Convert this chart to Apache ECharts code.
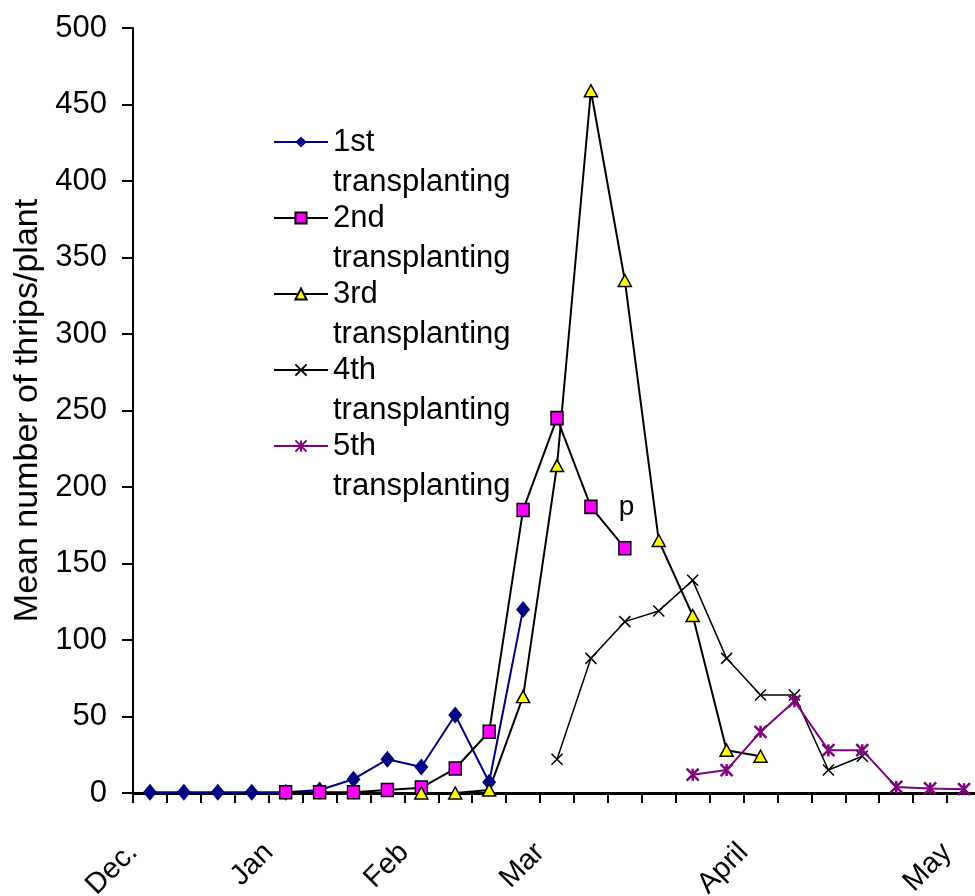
<!DOCTYPE html>
<html><head><meta charset="utf-8">
<script src="https://cdn.jsdelivr.net/npm/echarts@6/dist/echarts.min.js"></script>
<style>html,body{margin:0;padding:0;background:#fff}#c{width:975px;height:896px}</style>
</head><body><div id="c"></div>
<script>
// Sampling occasions (25, evenly spaced along the x axis)
const categories = ['1','2','3','4','5','6','7','8','9','10','11','12','13','14','15','16','17','18','19','20','21','22','23','24','25'];
// Month labels placed on the 26 tick boundaries
const monthLabels = ['Dec.','','','','Jan','','','','Feb','','','','Mar','','','','','','April','','','','','','May',''];
const seriesNames = ['1st\ntransplanting','2nd\ntransplanting','3rd\ntransplanting','4th\ntransplanting','5th\ntransplanting'];
const first  = [0.5,0.5,0.5,0.5,0.5,2,9,22,17,51,7,120,null,null,null,null,null,null,null,null,null,null,null,null,null];
const second = [null,null,null,null,0.5,0.5,0.5,2,3.5,16,40,185,245,187,160,null,null,null,null,null,null,null,null,null,null];
const third  = [null,null,null,null,null,null,null,null,0,0,2,63,214,459,335,165,116,28,24,null,null,null,null,null,null];
const fourth = [null,null,null,null,null,null,null,null,null,null,null,null,22,88,112,119,139,88,64,64,15,24,null,null,null];
const fifth  = [null,null,null,null,null,null,null,null,null,null,null,null,null,null,null,null,12,15,40,60,28,28,4,3,2.5];
const yMin = 0, yMax = 500, yInterval = 50;
const yAxisTitle = 'Mean number of thrips/plant';
const annotationIndex = 13, annotationText = 'p';

const FONT = "'Liberation Sans',Arial,sans-serif";
const chart = echarts.init(document.getElementById('c'), null, {renderer:'canvas'});

function lineSeries(name, data, color, width, symbol, size, fill, stroke, bw) {
  return {
    name: name, type: 'line', data: data, xAxisIndex: 0, yAxisIndex: 0,
    connectNulls: false, showAllSymbol: true, animation: false,
    symbol: symbol, symbolSize: size,
    lineStyle: {color: color, width: width},
    itemStyle: {color: fill, borderColor: stroke, borderWidth: bw},
    emphasis: {disabled: true}
  };
}
const secondData = second.map(function (v, i) {
  if (i === annotationIndex) {
    return {value: v, label: {show: true, formatter: annotationText, position: 'right', distance: 21,
      fontSize: 28, fontFamily: FONT, color: '#000'}};
  }
  return v;
});

chart.setOption({
  backgroundColor: '#fff',
  animation: false,
  grid: {left: 133, top: 28, right: -6, bottom: 103, containLabel: false, outerBoundsMode: 'none'},
  legend: {
    orient: 'vertical', left: 273, top: 82, padding: 0, itemGap: -44,
    itemWidth: 54, itemHeight: 14,
    formatter: function (name) { return '\n' + name; },
    textStyle: {fontSize: 31, fontFamily: FONT, color: '#000', lineHeight: 40},
    data: seriesNames
  },
  xAxis: [{
    type: 'category', data: categories, boundaryGap: true, position: 'bottom',
    axisLine: {show: true, onZero: false, lineStyle: {color: '#000', width: 3}},
    axisTick: {show: true, interval: 0, length: 10, lineStyle: {color: '#000', width: 2}},
    axisLabel: {show: false}, splitLine: {show: false}
  }, {
    type: 'category', data: monthLabels, boundaryGap: false, position: 'bottom',
    axisLine: {show: false}, axisTick: {show: false}, splitLine: {show: false},
    axisLabel: {show: true, interval: 0, rotate: 45, margin: 55, fontSize: 29, fontFamily: FONT, color: '#000'}
  }],
  yAxis: {
    type: 'value', min: yMin, max: yMax, interval: yInterval,
    name: yAxisTitle, nameLocation: 'middle', nameGap: 82,
    nameTextStyle: {fontSize: 34, fontFamily: FONT, color: '#000'},
    axisLine: {show: true, lineStyle: {color: '#000', width: 2}},
    axisTick: {show: true, length: 11, lineStyle: {color: '#000', width: 2}},
    axisLabel: {margin: 26, fontSize: 31, fontFamily: FONT, color: '#000'},
    splitLine: {show: false}
  },
  series: [
    lineSeries(seriesNames[0], first, '#000080', 2, 'diamond', [14, 17], '#000080', '#000080', 0),
    lineSeries(seriesNames[1], secondData, '#000000', 2, 'rect', [12, 13], '#ff00ff', '#000000', 1.5),
    lineSeries(seriesNames[2], third, '#000000', 2, 'triangle', [13, 12], '#ffff00', '#000000', 1.5),
    lineSeries(seriesNames[3], fourth, '#000000', 1.5, 'path://M0,0L10,10M10,0L0,10', 11, 'none', '#000000', 1.5),
    lineSeries(seriesNames[4], fifth, '#800080', 2, 'path://M0,0L10,10M10,0L0,10M5,0L5,10', 12, 'none', '#800080', 2.5)
  ]
});
</script></body></html>
